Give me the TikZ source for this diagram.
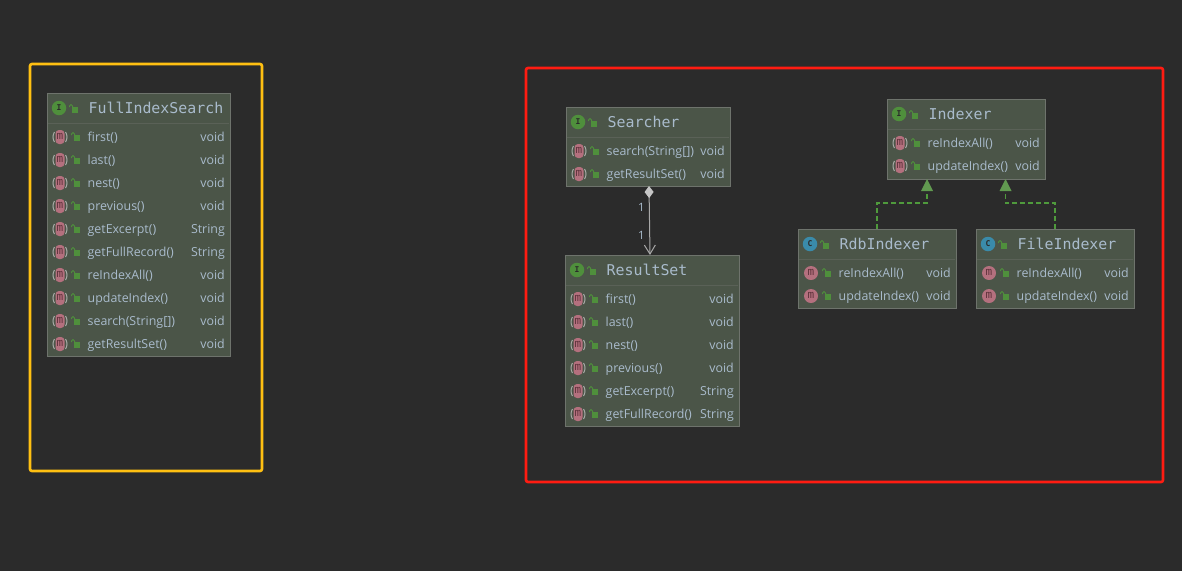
\documentclass[tikz,border=0pt]{standalone}
\usepackage{fontspec}
\setmainfont{Open Sans}
\newfontfamily\titlefont{DejaVu Sans Mono}
\usetikzlibrary{arrows.meta,calc}
\definecolor{bgc}{HTML}{2B2B2B}
\definecolor{boxc}{HTML}{4B5548}
\definecolor{boxl}{HTML}{6E736C}
\definecolor{sepc}{HTML}{5A6157}
\definecolor{txtc}{HTML}{A9BBCC}
\definecolor{greenc}{HTML}{4F8F3C}
\definecolor{pinkc}{HTML}{B4707E}
\definecolor{bluec}{HTML}{3A8BAA}
\definecolor{edgec}{HTML}{A8A8A8}
\definecolor{dashc}{HTML}{4F9A3C}
\definecolor{yelc}{HTML}{FFC012}
\definecolor{redc}{HTML}{FF1C12}
\definecolor{mtxt}{HTML}{5E323B}
\tikzset{
 x=1pt,y=-1pt,
 umlbox/.style={draw=boxl,fill=boxc,line width=1pt,inner sep=0pt,outer sep=0pt,anchor=north west},
 umltitle/.style={text=txtc,font=\titlefont\fontsize{14.9}{16}\selectfont,anchor=base west,inner sep=0pt},
 umlmember/.style={text=txtc,font=\fontsize{12.4}{14}\selectfont,anchor=base west,inner sep=0pt},
 umltype/.style={text=txtc,font=\fontsize{12.4}{14}\selectfont,anchor=base east,inner sep=0pt},
 umlmult/.style={text=txtc,font=\fontsize{11.5}{12}\selectfont,inner sep=0pt},
 kindicon/.style={circle,minimum size=14.5pt,inner sep=0pt,text=bgc,font=\titlefont\bfseries\fontsize{8}{8}\selectfont},
 frameline/.style={line width=2.6pt,rounded corners=2pt},
 implline/.style={draw=dashc,line width=1.2pt,dash pattern=on 5pt off 3pt},
}
\newcommand{\lockicon}[2]{%
 \fill[greenc] (#1-1.5,#2-0.5) rectangle (#1+4.5,#2+5);
 \draw[greenc,line width=1pt] (#1-1,#2-0.5) -- (#1-1,#2-1.5) .. controls (#1-1,#2-3.5) and (#1-4,#2-3.5) .. (#1-4,#2-1.5) -- (#1-4,#2-0.5);
}
\newcounter{iconno}
\newcommand{\methodicon}[3]{%
 \stepcounter{iconno}%
 \ifnum#3=1
  \fill[pinkc,rounded corners=3.5pt] (#1-4.5,#2-7) rectangle (#1+4.5,#2+7);
  \draw[boxl!60!white,line width=1pt] (#1-5.5,#2-5) .. controls (#1-7.5,#2-2) and (#1-7.5,#2+2) .. (#1-5.5,#2+5);
  \draw[boxl!60!white,line width=1pt] (#1+5.5,#2-5) .. controls (#1+7.5,#2-2) and (#1+7.5,#2+2) .. (#1+5.5,#2+5);
 \else
  \fill[pinkc] (#1,#2) circle[radius=7];
 \fi
 \node[text=mtxt,inner sep=0pt,font=\titlefont\fontsize{11}{11}\selectfont] (mi-\arabic{iconno}) at (#1,#2-0.5) {m};
}
\newcommand{\umlclass}[9]{%
 \node[umlbox,minimum width=#4pt-#2pt-1pt,minimum height=#5pt-#3pt-1pt] (#1) at (#2,#3) {};
 \draw[sepc,line width=1pt] (#2+1,#3+30) -- (#4-2,#3+30);
 \node[kindicon,fill=#7] (#1-kind) at (#2+12,#3+15) {#6};
 \lockicon{#2+26.5}{#3+14.5}
 \node[umltitle] (#1-title) at (#2+41.5,#3+20) {#8};
 \def\curx{#2}\def\cury{#3}\def\curr{#4}\def\curflag{#9}\def\curname{#1}%
}
\newcommand{\umlrow}[3]{%
 \pgfmathsetmacro{\rowy}{\cury+44+23*(#1)}%
 \methodicon{\curx+13}{\rowy}{\curflag}
 \lockicon{\curx+28.5}{\rowy-1.5}
 \node[umlmember] (\curname-m#1) at (\curx+40.5,\rowy+4) {#2};
 \node[umltype] (\curname-t#1) at (\curr-6,\rowy+4) {#3};
}
\begin{document}
\begin{tikzpicture}
\useasboundingbox (0,0) rectangle (1182,571);
\fill[bgc] (0,0) rectangle (1182,571);
\coordinate (yf1) at (30,64); \coordinate (yf2) at (262,471);
\coordinate (rf1) at (526,68); \coordinate (rf2) at (1163,482);
\draw[frameline,draw=yelc] (yf1) rectangle (yf2);
\draw[frameline,draw=redc] (rf1) rectangle (rf2);

\umlclass{fis}{47}{93}{231}{357}{I}{greenc}{FullIndexSearch}{1}
\umlrow{0}{first()}{void}
\umlrow{1}{last()}{void}
\umlrow{2}{nest()}{void}
\umlrow{3}{previous()}{void}
\umlrow{4}{getExcerpt()}{String}
\umlrow{5}{getFullRecord()}{String}
\umlrow{6}{reIndexAll()}{void}
\umlrow{7}{updateIndex()}{void}
\umlrow{8}{search(String[])}{void}
\umlrow{9}{getResultSet()}{void}

\umlclass{searcher}{566}{107}{731}{187}{I}{greenc}{Searcher}{1}
\umlrow{0}{search(String[])}{void}
\umlrow{1}{getResultSet()}{void}

\umlclass{resultset}{565}{255}{740}{427}{I}{greenc}{ResultSet}{1}
\umlrow{0}{first()}{void}
\umlrow{1}{last()}{void}
\umlrow{2}{nest()}{void}
\umlrow{3}{previous()}{void}
\umlrow{4}{getExcerpt()}{String}
\umlrow{5}{getFullRecord()}{String}

\umlclass{indexer}{887}{99}{1046}{180}{I}{greenc}{Indexer}{1}
\umlrow{0}{reIndexAll()}{void}
\umlrow{1}{updateIndex()}{void}

\umlclass{rdb}{798}{229}{957}{309}{C}{bluec}{RdbIndexer}{0}
\umlrow{0}{reIndexAll()}{void}
\umlrow{1}{updateIndex()}{void}

\umlclass{file}{976}{229}{1135}{309}{C}{bluec}{FileIndexer}{0}
\umlrow{0}{reIndexAll()}{void}
\umlrow{1}{updateIndex()}{void}

\draw[edgec,line width=1pt,{Diamond[length=12pt,width=9pt,fill=lightgray!90!white,color=lightgray!90!white]}-{Straight Barb[length=9pt,width=11pt,color=edgec]}]
  ([xshift=1pt]searcher.south) -- ([xshift=-2pt]resultset.north);
\node[umlmult] (m1) at (641.5,207) {1};
\node[umlmult] (m2) at (641.5,235) {1};

\coordinate (r1) at (rdb.north);
\coordinate (r2) at ([xshift=-39pt]indexer.south);
\coordinate (f1) at (file.north);
\coordinate (f2) at ([xshift=39.5pt]indexer.south);
\draw[implline] (r1) |- ($(r2)+(0,24)$) -- ($(r2)+(0,11)$);
\draw[implline] (f1) |- ($(f2)+(0,24)$) -- ($(f2)+(0,11)$);
\fill[greenc!90!white] (r2) -- ++(6,12) -- ++(-12,0) -- cycle;
\fill[greenc!90!white] (f2) -- ++(6,12) -- ++(-12,0) -- cycle;
\end{tikzpicture}
\end{document}
